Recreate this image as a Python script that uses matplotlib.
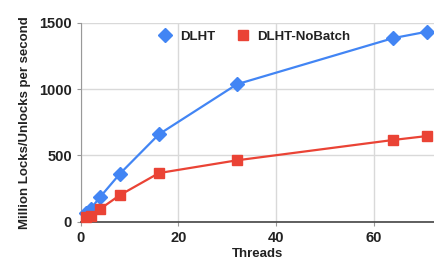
import numpy as np
import matplotlib.pyplot as plt

plt.rcParams['font.family'] = ['Liberation Sans', 'DejaVu Sans']

threads = [1, 2, 4, 8, 16, 32, 64, 71]
dlht = [63, 98, 189, 362, 659, 1036, 1383, 1432]
dlht_nobatch = [38, 45, 98, 201, 367, 463, 616, 646]

fig = plt.figure(figsize=(4.35, 2.6), dpi=100)
ax = fig.add_axes([0.186, 0.147, 0.814, 0.766])

ax.plot(threads, dlht, color='#4285F4', marker='D', markersize=7,
        linewidth=1.6, label='DLHT', clip_on=False, zorder=3)
ax.plot(threads, dlht_nobatch, color='#EA4335', marker='s', markersize=6.5,
        linewidth=1.6, label='DLHT-NoBatch', clip_on=False, zorder=3)

ax.set_xlim(0, 72.6)
ax.set_ylim(0, 1500)
ax.set_xticks([0, 20, 40, 60])
ax.set_yticks([0, 500, 1000, 1500])
ax.grid(True, color='#d9d9d9', linewidth=1)
ax.set_axisbelow(True)
for s in ['top', 'right']:
    ax.spines[s].set_visible(False)
ax.spines['left'].set_color('#999999')
ax.spines['bottom'].set_color('#444444')
ax.spines['bottom'].set_linewidth(1.2)
ax.tick_params(length=3, color='#999999', labelsize=10.5, labelcolor='#222222')
for lab in ax.get_xticklabels() + ax.get_yticklabels():
    lab.set_fontweight('bold')

ax.set_xlabel('Threads', fontsize=9.5, fontweight='bold', color='#222222', labelpad=2)
ax.set_ylabel('Million Locks/Unlocks per second', fontsize=9.5,
              fontweight='bold', color='#222222', labelpad=6)

leg = ax.legend(loc='upper center', bbox_to_anchor=(0.49, 1.02), ncol=2,
                frameon=False, fontsize=9.5, handlelength=1.0,
                handletextpad=0.6, columnspacing=1.6, numpoints=1)
for t in leg.get_texts():
    t.set_fontweight('bold')
    t.set_color('#222222')
for h in leg.legend_handles:
    h.set_linestyle('none')

fig.savefig('out.png', dpi=100)
